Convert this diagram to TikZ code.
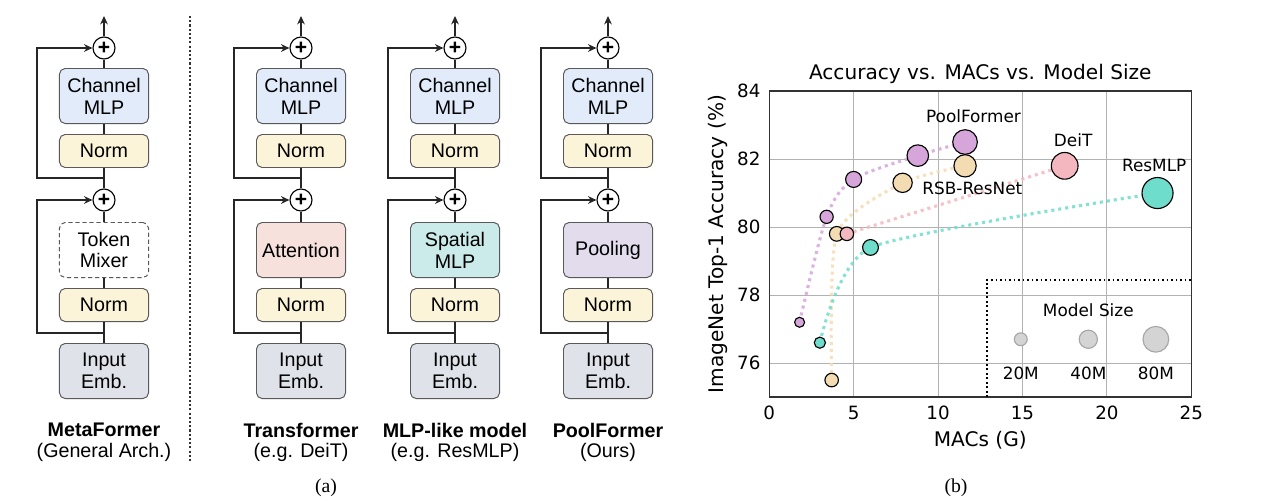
\documentclass[tikz,border=0pt]{standalone}
\usepackage{fontspec}
\setmainfont{Liberation Sans}
\newfontfamily\plotfont{DejaVu Sans}
\newfontfamily\capfont{Liberation Serif}
\usetikzlibrary{arrows.meta,positioning}

\definecolor{mlpblue}{HTML}{E1EBFA}
\definecolor{normyel}{HTML}{FBF4D8}
\definecolor{attred}{HTML}{F6E1DC}
\definecolor{spatcyan}{HTML}{CBEAEA}
\definecolor{poolvio}{HTML}{E3DCEC}
\definecolor{embgray}{HTML}{DFE3E9}
\definecolor{pfpur}{HTML}{D6A5DA}
\definecolor{rsbtan}{HTML}{F3DCB1}
\definecolor{deitpink}{HTML}{F4B7C0}
\definecolor{mlpteal}{HTML}{6FDDCC}

\tikzset{
  blk/.style={draw=black!65, line width=0.7pt, rounded corners=4pt, minimum width=2.225cm,
    align=center, inner sep=1pt, font=\fontsize{14}{15.5}\selectfont},
  tall/.style={blk, minimum height=1.375cm},
  thin/.style={blk, minimum height=0.825cm, fill=normyel},
  mixdash/.style={dash pattern=on 3pt off 2pt, fill=white},
  mixatt/.style={fill=attred},
  mixspat/.style={fill=spatcyan},
  mixpool/.style={fill=poolvio},
  addop/.style={draw, line width=0.8pt, circle, minimum size=0.55cm, inner sep=0pt,
    font=\bfseries\fontsize{15}{15}\selectfont},
  wire/.style={draw=black!85, line width=0.9pt},
  skiparr/.style={wire, -{Stealth[length=6pt,width=5.5pt]}},
  gridln/.style={draw=black!30, line width=0.7pt},
  spine/.style={draw=black!80, line width=1pt},
  ticklbl/.style={font=\plotfont\fontsize{13}{13}\selectfont, inner sep=1pt},
  annot/.style={font=\plotfont\fontsize{12}{12}\selectfont},
  trend/.style={line width=2.2pt, dash pattern=on 2.2pt off 2.8pt, opacity=0.85},
  bub/.style={draw=black, line width=0.8pt},
  legbub/.style={fill=black!17, draw=black!35, line width=0.8pt}
}

\begin{document}
\begin{tikzpicture}[x=0.025cm, y=-0.025cm]
\useasboundingbox (0,0) rectangle (1280,500);

% (a) block structures
\foreach \cx/\cn/\mix/\sty/\titl/\sub in {
  104/m/{Token\\Mixer}/mixdash/MetaFormer/{(General Arch.)},
  301/t/Attention/mixatt/Transformer/{(e.g. DeiT)},
  455/s/{Spatial\\MLP}/mixspat/MLP-like model/{(e.g. ResMLP)},
  608/p/Pooling/mixpool/PoolFormer/{(Ours)}}{
  \node[tall, fill=embgray] (emb\cn) at (\cx,371) {Input\\Emb.};
  \node[thin] (nrma\cn) at (\cx,305) {Norm};
  \node[tall, \sty] (mix\cn) at (\cx,250) {\mix};
  \node[addop] (adda\cn) at (\cx,200) {+};
  \node[thin] (nrmb\cn) at (\cx,151) {Norm};
  \node[tall, fill=mlpblue] (cmlp\cn) at (\cx,96) {Channel\\MLP};
  \node[addop] (addb\cn) at (\cx,48) {+};
  \coordinate (out\cn) at (\cx,16);
  \coordinate (sa\cn) at (\cx,333);
  \coordinate (sb\cn) at (\cx,178);
  \draw[wire] (emb\cn) -- (nrma\cn);
  \draw[wire] (nrma\cn) -- (mix\cn);
  \draw[wire] (mix\cn) -- (adda\cn);
  \draw[wire] (adda\cn) -- (nrmb\cn);
  \draw[wire] (nrmb\cn) -- (cmlp\cn);
  \draw[wire] (cmlp\cn) -- (addb\cn);
  \draw[skiparr] (addb\cn) -- (out\cn);
  \draw[skiparr] (sa\cn) -- ++(-67,0) |- (adda\cn);
  \draw[skiparr] (sb\cn) -- ++(-67,0) |- (addb\cn);
  \node[font=\bfseries\fontsize{14}{14}\selectfont] (name\cn) at (\cx,430) {\titl};
  \node[font=\fontsize{14}{14}\selectfont] (sub\cn) at (\cx,452) {\sub};
}
\draw[black!80, line width=0.8pt, dash pattern=on 1.5pt off 1.5pt] (190,16) -- (190,462);

% (b) accuracy plot
\begin{scope}[shift={(19.225cm,-73.675cm)}, x=0.422cm, y=0.85cm]
\foreach \gx in {5,10,15,20} \draw[gridln] (\gx,75) -- (\gx,84);
\foreach \gy in {76,78,80,82} \draw[gridln] (0,\gy) -- (25,\gy);
\draw[spine] (0,75) rectangle (25,84);
\foreach \gx in {0,5,...,25} \node[ticklbl, below=5pt] at (\gx,75) {\gx};
\foreach \gy in {76,78,...,84} \node[ticklbl, left=5pt] at (0,\gy) {\gy};
\node[font=\plotfont\fontsize{14.3}{14.3}\selectfont] (ttl) at (12.5,84.5) {Accuracy vs. MACs vs. Model Size};
\node[font=\plotfont\fontsize{14.3}{14.3}\selectfont] (xlab) at (12.5,73.73) {MACs (G)};
\node[font=\plotfont\fontsize{14.3}{14.3}\selectfont, rotate=90] (ylab) at (-3.02,79.5) {ImageNet Top-1 Accuracy (\%)};

% trends
\draw[trend, pfpur] plot[smooth, tension=0.5] coordinates {(1.8,77.2) (3.4,80.3) (5.0,81.4) (8.8,82.1) (11.6,82.5)};
\draw[trend, rsbtan] plot[smooth, tension=0.4] coordinates {(3.7,75.5) (4.0,79.8) (7.9,81.3) (11.6,81.8)};
\draw[trend, deitpink] (4.6,79.8) -- (17.5,81.8);
\draw[trend, mlpteal] plot[smooth, tension=0.35] coordinates {(3.0,76.6) (6.0,79.4) (23.0,81.0)};

% bubbles
\foreach \mx/\my/\ms in {1.8/77.2/12, 3.4/80.3/21, 5.0/81.4/31, 8.8/82.1/56, 11.6/82.5/73}
  \filldraw[bub, fill=pfpur] (\mx,\my) circle[radius={sqrt(\ms)*0.036cm}];
\foreach \mx/\my/\ms in {3.7/75.5/22, 4.0/79.8/26, 7.9/81.3/45, 11.6/81.8/60}
  \filldraw[bub, fill=rsbtan] (\mx,\my) circle[radius={sqrt(\ms)*0.036cm}];
\foreach \mx/\my/\ms in {4.6/79.8/22, 17.5/81.8/86}
  \filldraw[bub, fill=deitpink] (\mx,\my) circle[radius={sqrt(\ms)*0.036cm}];
\foreach \mx/\my/\ms in {3.0/76.6/15, 6.0/79.4/30, 23.0/81.0/116}
  \filldraw[bub, fill=mlpteal] (\mx,\my) circle[radius={sqrt(\ms)*0.036cm}];

\node[annot] (lpf) at (12.1,83.26) {PoolFormer};
\node[annot] (lrsb) at (12.03,81.15) {RSB-ResNet};
\node[annot] (ldeit) at (18.0,82.56) {DeiT};
\node[annot] (lmlp) at (22.8,81.82) {ResMLP};

% legend
\draw[black, line width=1.2pt, dash pattern=on 1.2pt off 2pt] (12.9,75) -- (12.9,78.45) -- (25,78.45);
\node[annot] (msize) at (18.9,77.56) {Model Size};
\foreach \lx/\ms/\lt in {14.9/20/20M, 18.9/40/40M, 22.9/80/80M}{
  \filldraw[legbub] (\lx,76.7) circle[radius={sqrt(\ms)*0.036cm}];
  \node[annot] at (\lx,75.7) {\lt};
}
\end{scope}

\node[font=\capfont\fontsize{14}{14}\selectfont] (capa) at (326,488) {(a)};
\node[font=\capfont\fontsize{14}{14}\selectfont] (capb) at (956,488) {(b)};
\end{tikzpicture}
\end{document}
